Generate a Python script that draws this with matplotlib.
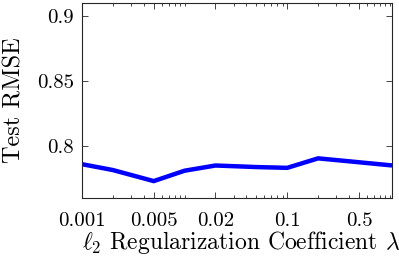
import matplotlib
matplotlib.use("Agg")
import matplotlib.pyplot as plt
from matplotlib.ticker import FixedLocator, FixedFormatter, LogLocator, NullFormatter

lambdas = [0.001, 0.002, 0.005, 0.01, 0.02, 0.05, 0.1, 0.2, 0.5, 1.0]
rmse = [0.786, 0.7815, 0.773, 0.781, 0.785, 0.7838, 0.7832, 0.7905, 0.7875, 0.7852]
xtick_vals = [0.001, 0.005, 0.02, 0.1, 0.5]
xtick_labels = ["0.001", "0.005", "0.02", "0.1", "0.5"]
ytick_vals = [0.8, 0.85, 0.9]
ytick_labels = ["0.8", "0.85", "0.9"]

plt.rcParams['font.family'] = ['cmr10', 'DejaVu Serif']
plt.rcParams['mathtext.fontset'] = 'cm'
plt.rcParams['axes.formatter.use_mathtext'] = True

fig = plt.figure(figsize=(3.99, 2.62), dpi=100)
ax = fig.add_axes([82/399, 1 - 198/262, 310/399, 195/262])
ax.plot(lambdas, rmse, color=(0, 0, 1), lw=3.2, solid_joinstyle='miter')
ax.set_xscale('log')
ax.set_xlim(0.001, 1.05)
ax.set_ylim(0.76, 0.91)
ax.xaxis.set_major_locator(FixedLocator(xtick_vals))
ax.xaxis.set_major_formatter(FixedFormatter(xtick_labels))
ax.xaxis.set_minor_locator(LogLocator(base=10, subs=range(1, 10), numticks=20))
ax.xaxis.set_minor_formatter(NullFormatter())
ax.yaxis.set_major_locator(FixedLocator(ytick_vals))
ax.yaxis.set_major_formatter(FixedFormatter(ytick_labels))
ax.tick_params(which='both', direction='in', top=True, right=True, labelsize=15, color='#262626', width=0.6)
ax.tick_params(which='major', length=4)
ax.tick_params(which='minor', length=2)
ax.tick_params(axis='x', pad=10)
ax.tick_params(axis='y', pad=6)
for s in ax.spines.values():
    s.set_color('#262626')
    s.set_linewidth(0.8)
ax.set_ylabel('Test RMSE', fontsize=17.5, labelpad=8)
ax.set_xlabel(r'$\ell_2$ Regularization Coefficient $\lambda$', fontsize=17, labelpad=2)
ax.xaxis.set_label_coords(0.5 + 4/310, -0.16)
ax.xaxis.label.set_va('top')
fig.savefig('out.png', dpi=100)
